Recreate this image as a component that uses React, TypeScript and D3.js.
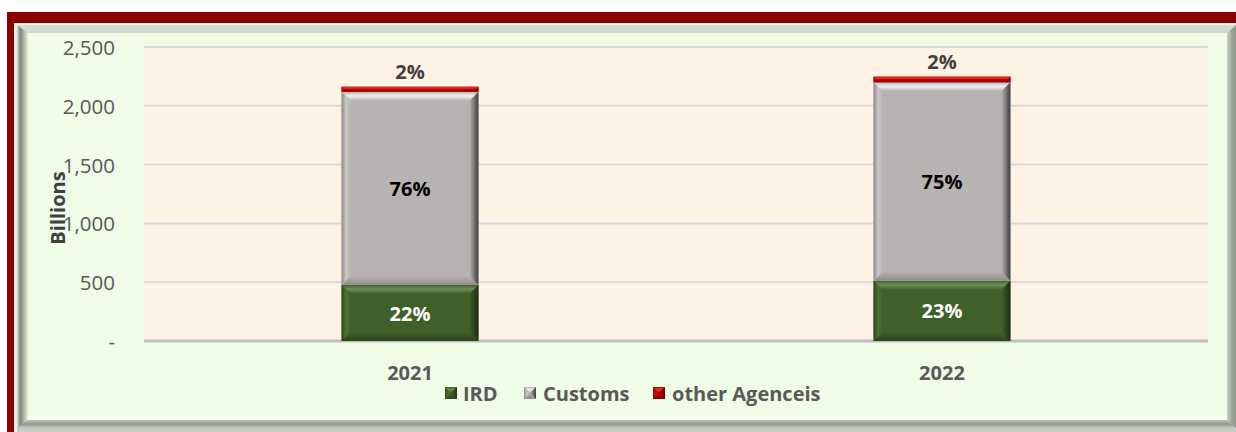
import React from "react";
import * as d3 from "d3";

const years = ["2021", "2022"];
const ird = [476, 512];
const customs = [1643, 1688];
const otherAgencies = [43, 48];
const seriesNames = ["IRD", "Customs", "other Agenceis"];
const yTicks = [0, 500, 1000, 1500, 2000, 2500];

const W = 1236;
const H = 432;
const plot = { left: 144, right: 1208, top: 47, bottom: 341 };

const palettes = [
  { main: "#3F6129", light: "#6E8F57", lightSide: "#4F7338", dark: "#1C2E11", darkSide: "#2D461D" },
  { main: "#B7B3B3", light: "#F2F0F0", lightSide: "#CAC7C7", dark: "#3E3C3C", darkSide: "#8F8B8B" },
  { main: "#C00000", light: "#E84040", lightSide: "#D01010", dark: "#6A0000", darkSide: "#8A0000" },
];

function BevelRect({ x, y, w, h, p, id }: any) {
  const b = Math.min(9, h / 2, w / 2);
  const x2 = x + w;
  const y2 = y + h;
  return (
    <g>
      <defs>
        <linearGradient id={`${id}-t`} x1="0" y1="0" x2="0" y2="1">
          <stop offset="0" stopColor={p.main} />
          <stop offset="0.45" stopColor={p.light} />
          <stop offset="1" stopColor={p.main} />
        </linearGradient>
        <linearGradient id={`${id}-r`} x1="0" y1="0" x2="1" y2="0">
          <stop offset="0" stopColor={p.main} />
          <stop offset="1" stopColor={p.dark} />
        </linearGradient>
        <linearGradient id={`${id}-l`} x1="0" y1="0" x2="1" y2="0">
          <stop offset="0" stopColor={p.darkSide} />
          <stop offset="0.5" stopColor={p.lightSide} />
          <stop offset="1" stopColor={p.main} />
        </linearGradient>
        <linearGradient id={`${id}-b`} x1="0" y1="0" x2="0" y2="1">
          <stop offset="0" stopColor={p.main} />
          <stop offset="1" stopColor={p.darkSide} />
        </linearGradient>
      </defs>
      <rect x={x} y={y} width={w} height={h} fill={p.main} />
      <polygon points={`${x},${y} ${x2},${y} ${x2 - b},${y + b} ${x + b},${y + b}`} fill={`url(#${id}-t)`} />
      <polygon points={`${x},${y2} ${x2},${y2} ${x2 - b},${y2 - b} ${x + b},${y2 - b}`} fill={`url(#${id}-b)`} />
      <polygon points={`${x},${y} ${x + b},${y + b} ${x + b},${y2 - b} ${x},${y2}`} fill={`url(#${id}-l)`} />
      <polygon points={`${x2},${y} ${x2 - b},${y + b} ${x2 - b},${y2 - b} ${x2},${y2}`} fill={`url(#${id}-r)`} />
    </g>
  );
}

export default function App() {
  const x = d3.scaleBand<string>().domain(years).range([plot.left, plot.right]).paddingInner(0.7427).paddingOuter(0.3714);
  const y = d3.scaleLinear().domain([0, 2500]).range([plot.bottom, plot.top]);
  const fmt = (v: number) => (v === 0 ? "-" : d3.format(",")(v));

  const stackData = years.map((yr, i) => ({ year: yr, IRD: ird[i], Customs: customs[i], Other: otherAgencies[i] }));
  const stack = d3.stack<any>().keys(["IRD", "Customs", "Other"])(stackData);
  const font = "'Open Sans', 'Liberation Sans', sans-serif";

  return (
    <svg width={W} height={H} style={{ position: "absolute", left: 0, top: 0 }} fontFamily={font}>
      <defs>
        <linearGradient id="frameL" x1="0" y1="0" x2="1" y2="0">
          <stop offset="0" stopColor="#D7DED3" />
          <stop offset="0.3" stopColor="#7C8877" />
          <stop offset="0.6" stopColor="#A7B3A2" />
          <stop offset="1" stopColor="#E4EEDD" />
        </linearGradient>
        <linearGradient id="frameT" x1="0" y1="0" x2="0" y2="1">
          <stop offset="0" stopColor="#D7DED3" />
          <stop offset="0.3" stopColor="#7C8877" />
          <stop offset="0.6" stopColor="#A7B3A2" />
          <stop offset="1" stopColor="#E4EEDD" />
        </linearGradient>
        <linearGradient id="frameR" x1="0" y1="0" x2="1" y2="0">
          <stop offset="0" stopColor="#C9D3C4" />
          <stop offset="0.5" stopColor="#9EAA99" />
          <stop offset="1" stopColor="#8C9888" />
        </linearGradient>
        <linearGradient id="frameB" x1="0" y1="0" x2="0" y2="1">
          <stop offset="0" stopColor="#B9C3B4" />
          <stop offset="0.5" stopColor="#8E9A8A" />
          <stop offset="1" stopColor="#C8CCC6" />
        </linearGradient>
      </defs>
      <rect x={0} y={0} width={W} height={H} fill="#FFFFFF" />
      {/* red frame */}
      <rect x={7} y={12} width={W - 7} height={H - 12} fill="#8B0000" />
      <rect x={14} y={23} width={W - 14} height={H - 23} fill="#E8EFE4" />
      {/* bevel frame */}
      <polygon points={`17,25 ${W},25 ${W},33 28,33 28,${H - 4} 17,${H}`} fill="url(#frameT)" />
      <polygon points={`17,25 28,33 28,${H - 4} 17,${H}`} fill="url(#frameL)" />
      <polygon points={`${W - 9},33 ${W},25 ${W},${H} ${W - 9},${H - 4}`} fill="url(#frameR)" />
      <polygon points={`28,420 ${W - 9},420 ${W},428 17,428`} fill="url(#frameB)" />
      <rect x={17} y={428} width={W - 17} height={4} fill="#C8CCC6" />
      <rect x={28} y={33} width={W - 9 - 28} height={387} fill="#EFFCE6" />
      <rect x={28} y={416} width={W - 9 - 28} height={4} fill="#FBFFF8" />

      {/* plot area */}
      <rect x={plot.left} y={plot.top} width={plot.right - plot.left} height={plot.bottom - plot.top} fill="#FEF2E4" />
      {yTicks.map((t) => (
        <g key={t}>
          {t > 0 && <line x1={plot.left} x2={plot.right} y1={y(t)} y2={y(t)} stroke="#D9D9D9" strokeWidth={2} />}
          <text x={115} y={y(t)} textAnchor="end" dominantBaseline="central" fontSize={20.5} fill="#595959">
            {fmt(t)}
          </text>
        </g>
      ))}
      <line x1={plot.left} x2={plot.right} y1={plot.bottom} y2={plot.bottom} stroke="#BFBFBF" strokeWidth={3} />

      {/* bars */}
      {stack.map((s, si) =>
        s.map((d, i) => {
          const yr = years[i];
          const bx = x(yr)!;
          const y0 = y(d[0]);
          const y1 = y(d[1]);
          return (
            <BevelRect key={`${si}-${i}`} id={`bar${si}${i}`} x={bx} y={y1} w={x.bandwidth()} h={y0 - y1} p={palettes[si]} />
          );
        })
      )}

      {/* labels */}
      {years.map((yr, i) => {
        const total = ird[i] + customs[i] + otherAgencies[i];
        const cx = x(yr)! + x.bandwidth() / 2;
        const pct = (v: number) => `${Math.round((v / total) * 100)}%`;
        return (
          <g key={yr} fontWeight="bold" textAnchor="middle" fontSize={20}>
            <text x={cx} y={y((ird[i]) / 2)} dominantBaseline="central" fill="#FFFFFF">
              {pct(ird[i])}
            </text>
            <text x={cx} y={y(ird[i] + customs[i] / 2)} dominantBaseline="central" fill="#000000">
              {pct(customs[i])}
            </text>
            <text x={cx} y={y(total) - 15} dominantBaseline="central" fill="#404040">
              {pct(otherAgencies[i])}
            </text>
            <text x={cx} y={372} dominantBaseline="central" fill="#595959">
              {yr}
            </text>
          </g>
        );
      })}

      {/* y axis title */}
      <text
        transform={`translate(57, 208) rotate(-90)`}
        textAnchor="middle"
        dominantBaseline="central"
        fontWeight="bold"
        fontSize={20}
        fill="#404040"
      >
        Billions
      </text>

      {/* legend */}
      {(() => {
        const items = [
          { x: 445, tx: 463 },
          { x: 524, tx: 543 },
          { x: 653, tx: 672 },
        ];
        return seriesNames.map((n, i) => (
          <g key={n}>
            <BevelRect id={`leg${i}`} x={items[i].x} y={387} w={12} h={12} p={palettes[i]} />
            <text x={items[i].tx} y={393} dominantBaseline="central" fontWeight="bold" fontSize={20} fill="#595959">
              {n}
            </text>
          </g>
        ));
      })()}
    </svg>
  );
}
